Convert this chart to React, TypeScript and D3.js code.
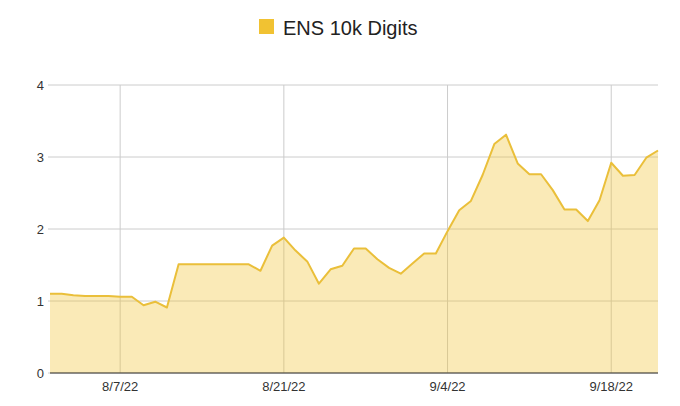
import React from "react";
import * as d3 from "d3";

const startDate = "2022-08-01";
const values: number[] = [
  1.10, 1.10, 1.08, 1.07, 1.07, 1.07, 1.06, 1.06, 0.94, 0.99, 0.91,
  1.51, 1.51, 1.51, 1.51, 1.51, 1.51, 1.51, 1.42, 1.77, 1.88, 1.70,
  1.55, 1.24, 1.44, 1.49, 1.73, 1.73, 1.58, 1.46, 1.38, 1.52, 1.66,
  1.66, 1.97, 2.26, 2.39, 2.75, 3.18, 3.31, 2.91, 2.76, 2.76, 2.54,
  2.27, 2.27, 2.11, 2.40, 2.92, 2.74, 2.75, 2.99, 3.09,
];
const yTicks = [0, 1, 2, 3, 4];
const xTickDates = ["2022-08-07", "2022-08-21", "2022-09-04", "2022-09-18"];
const seriesName = "ENS 10k Digits";

const parse = d3.utcParse("%Y-%m-%d");
const start = parse(startDate) as Date;
const data = values.map((v, i) => ({ date: d3.utcDay.offset(start, i), value: v }));

export default function App() {
  const W = 680, H = 406;
  const left = 50, right = 658, top = 85, bottom = 373;
  const x = d3.scaleUtc()
    .domain([data[0].date, data[data.length - 1].date])
    .range([left, right]);
  const y = d3.scaleLinear().domain([0, 4]).range([bottom, top]);
  const area = d3.area<{ date: Date; value: number }>()
    .x(d => x(d.date)).y0(y(0)).y1(d => y(d.value));
  const line = d3.line<{ date: Date; value: number }>()
    .x(d => x(d.date)).y(d => y(d.value));
  const fmt = d3.utcFormat("%-m/%-d/%y");
  const color = "#f1c232";
  const font = "Liberation Sans, Arial, sans-serif";

  return (
    <svg width={W} height={H} style={{ position: "absolute", left: 0, top: 0, background: "#fff" }}
      fontFamily={font}>
      <rect x={259} y={19} width={15} height={15} fill={color} />
      <text x={283} y={35} fontSize={20} fill="#222">{seriesName}</text>
      {yTicks.map(t => (
        <g key={t}>
          <line x1={left - 2} x2={right} y1={y(t)} y2={y(t)} stroke="#cccccc" strokeWidth={1} />
          <text x={44} y={y(t) + 4.5} fontSize={13} textAnchor="end" fill="#333">{t}</text>
        </g>
      ))}
      {xTickDates.map(s => {
        const d = parse(s) as Date;
        return (
          <g key={s}>
            <line x1={x(d)} x2={x(d)} y1={top} y2={bottom} stroke="#cccccc" strokeWidth={1} />
            <text x={x(d)} y={391} fontSize={13} textAnchor="middle" fill="#333">{fmt(d)}</text>
          </g>
        );
      })}
      <path d={area(data) || ""} fill={color} fillOpacity={0.35} />
      <path d={line(data) || ""} fill="none" stroke="#eabf3a" strokeWidth={2} strokeLinejoin="round" />
      <line x1={left} x2={right} y1={bottom} y2={bottom} stroke="#333" strokeWidth={1.2} />
    </svg>
  );
}
